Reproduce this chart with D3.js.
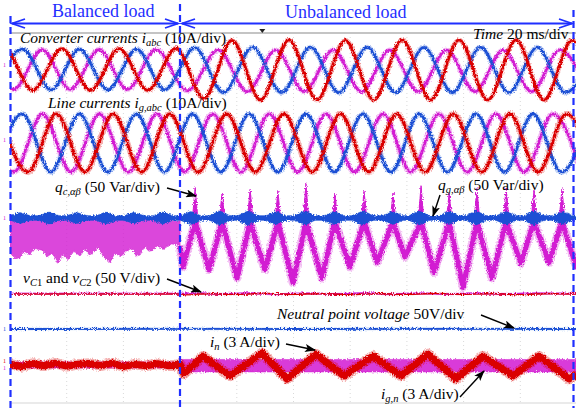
<!DOCTYPE html>
<html><head><meta charset="utf-8">
<script src="https://cdn.jsdelivr.net/npm/d3@7"></script>
<style>body{margin:0;background:#fff}svg{display:block}text{font-family:'Liberation Serif','Times New Roman',serif}</style>
</head><body>
<svg id="c" width="576" height="408"></svg>
<script>
// ================= DATA (time in ms, 20 ms/div; values in channel units) =================
// Converter currents i_abc (A), extrema
const convRed = [[-12,-4.5],[-2,4.5],[8,-4.5],[18.3,4.5],[28.4,-4.5],[38.5,4.5],[48.6,-4.5],[58.6,4.6],[68.4,-6.3],[78.3,6.3],[88.4,-6.6],[98.4,6.4],[108.3,-6.6],[118.3,6.3],[128.3,-6.6],[138.3,6.4],[148.4,-6.6],[158.4,6.4],[168.5,-6.6],[178.5,6.4],[188.4,-6.6],[198.2,6.3],[208.2,-6.6]];
const convBlue = [[-5.5,-4.4],[4.5,4.4],[14.5,-4.4],[24.5,4.4],[34.5,-4.4],[44.6,4.4],[54.6,-4.4],[65.2,4.7],[75.3,-5.0],[85.6,4.8],[95.8,-5.0],[106,4.8],[116,-5.0],[126,4.8],[136,-5.0],[146,4.8],[156,-5.0],[166,4.8],[176,-5.0],[186,4.8],[196,-5.0],[206,4.8]];
const convMag = [[-8.7,4.3],[1.3,-4.3],[11.3,4.3],[21.3,-4.3],[31.4,4.3],[41.4,-4.3],[51.5,4.3],[62.5,-4.6],[73.5,4.2],[83.7,-4.8],[93.8,4.2],[103.9,-4.8],[114,4.2],[124,-4.8],[134,4.2],[144,-4.8],[154,4.2],[164,-4.8],[174,4.2],[184,-4.8],[194,4.2],[204,-4.8]];
// Line currents i_g,abc (A)
const lineRed = [[-3.6,6.3],[6.4,-6.3],[16.4,6.3],[26.4,-6.3],[36.4,6.3],[46.4,-6.3],[56.4,6.3],[66.4,-6.3],[76.4,6.3],[86.5,-6.3],[96.6,6.3],[106.6,-6.3],[116.6,6.3],[126.5,-6.3],[136.4,6.3],[146.4,-6.3],[156.4,6.3],[166.4,-6.3],[176.3,6.3],[186.3,-6.3],[196.3,6.3],[206.3,-6.3]];
const lineBlue = [[-5.6,-6.3],[4.4,6.3],[14.4,-6.3],[24.5,6.3],[34.5,-6.3],[44.6,6.3],[54.5,-6.3],[64.4,6.3],[74.4,-6.3],[84.4,6.3],[94.4,-6.3],[104.4,6.3],[114.4,-6.3],[124.5,6.3],[134.4,-6.3],[144.3,6.3],[154.3,-6.3],[164.4,6.3],[174.4,-6.3],[184.5,6.3],[194.5,-6.3],[204.5,6.3]];
const lineMag = [[-8.7,6.3],[1.3,-6.3],[11.5,6.3],[21.5,-6.3],[31.6,6.3],[41.7,-6.3],[51.8,6.3],[61.6,-6.3],[71.5,6.3],[81.5,-6.3],[91.5,6.3],[101.5,-6.3],[111.5,6.3],[121.5,-6.3],[131.6,6.3],[141.4,-6.3],[151.3,6.3],[161.3,-6.3],[171.4,6.3],[181.4,-6.3],[191.5,6.3],[201.5,-6.3]];
// q_g,ab (Var): noise band with bursts
const qgBurstT = [3.5,13.8,23.6,33.9,43.7,54,63.8,74,84,93.8,104,114.3,124.5,135,144.3,154.9,164.4,175,184.8,195];
const qgBurstAmp = [6,6.5,6,6.5,6,6.5,7,7.5,7.5,7,7.5,7,7.5,7,7.5,7,7.5,7,7.5,7];
const qgBase = 2.6;
// q_c,ab (Var): balanced noise band envelopes
const qcBalUpper = [[0,-2],[5,-4],[10,-1],[15,-3],[20,-2],[24,2],[26,-3],[30,-2],[35,-4],[40,-1],[45,-3],[50,-2],[55,-4],[60,-3]];
const qcBalLower = [[0,-38],[2,-44],[3.5,-43],[5,-36],[7,-40],[9,-33],[11.6,-35],[13,-42],[15,-38],[16.9,-49],[18.5,-40],[20.5,-45],[22.5,-36],[24.7,-41],[26.5,-34],[28,-40],[29.3,-38],[31,-32],[33,-42],[35.3,-48],[37,-38],[39,-42],[41.3,-35],[43,-33],[44.5,-41],[45.9,-40],[47.5,-31],[49,-36],[50.4,-35],[52,-30],[54,-34],[55.4,-31],[57,-28],[58.9,-29],[60,-30]];
// q_c,ab (Var): unbalanced spikes and troughs
const qcSpikeT = [65.3,74.8,84.7,94.5,104.4,114.6,124.9,135.1,145,154.9,164.7,175,184.8,194.7];
const qcSpikeV = [33,27,31,29,37,27,29,27,35,27,32,33,31,32];
const qcTroughT = [61,70.2,80.1,89.9,99.8,110,119.9,129.5,139.3,149.6,159.8,170,180.2,190.1,200];
const qcTroughV = [-53,-56,-65,-56,-70,-65,-53,-48,-42,-59,-75,-65,-49,-48,-55];
// DC-link capacitor voltages v_C1, v_C2 (deviation, V)
const vc1 = [[0,0],[60,0],[62,-0.8],[70,0.3],[80,-0.5],[90,0.6],[100,-0.4],[110,0.5],[120,-0.6],[130,0.4],[140,-0.5],[150,0.6],[160,-0.3],[170,0.5],[180,-0.6],[190,0.4],[200,0]];
const vc2 = [[0,0.3],[60,0.3],[65,0.9],[75,0],[85,0.8],[95,-0.2],[105,0.7],[115,0],[125,0.8],[135,-0.1],[145,0.7],[155,0],[165,0.8],[175,0],[185,0.7],[200,0.3]];
// Neutral point voltage (V)
const vn = [[0,0],[50,0.2],[100,0],[150,0.2],[200,0]];
// Neutral currents (A)
const inRed = [[0,0.05],[4,-0.1],[8,0.1],[12,-0.05],[16,0.12],[20,-0.08],[24,0.05],[28,0.1],[32,-0.05],[36,0.12],[40,-0.1],[44,0.05],[48,-0.05],[52,0.08],[56,-0.05],[60,0.05],[61.3,-0.58],[68.1,0.58],[77.6,-0.71],[88.9,0.78],[97.7,-0.91],[107.9,0.71],[117.8,-0.71],[128,0.58],[137.9,-0.71],[147.4,0.71],[157.3,-0.91],[166.8,0.58],[177.4,-0.71],[186.6,0.58],[197.2,-0.91],[200,-0.6]];
const ignUpper = [[0,0.2],[59.5,0.2],[60.5,0.36],[200,0.36]];
const ignLower = [[0,-0.2],[59.5,-0.2],[60.5,-0.45],[200,-0.45]];

// ================= LAYOUT =================
const W = 576, H = 408;
const svg = d3.select('#c');
const x = d3.scaleLinear().domain([0, 200]).range([10, 577]);
const DIV = 46.25;
const ch = (zero, perDiv) => d3.scaleLinear().domain([0, perDiv]).range([zero, zero - DIV]);
const yConv = ch(69.5, 10), yLine = ch(143, 10), yQ = ch(218, 50),
      yVc = ch(294, 50), yVn = ch(329, 50), yIn = ch(365, 3);
const RED = '#da0000', BLUE = '#1a4fd4', MAG = '#d21ad2', DBLUE = '#1f2fff';
const FONT = "'Liberation Serif','Times New Roman',serif";

svg.append('defs').html(`
  <clipPath id="clip"><rect x="10" y="33" width="566" height="370"/></clipPath>
  <filter id="fz" x="-2%" y="-5%" width="104%" height="110%">
    <feTurbulence type="fractalNoise" baseFrequency="0.9 0.6" numOctaves="2" seed="4" result="n"/>
    <feDisplacementMap in="SourceGraphic" in2="n" scale="4" xChannelSelector="R" yChannelSelector="G"/>
  </filter>
  <marker id="ah" markerUnits="userSpaceOnUse" markerWidth="11" markerHeight="8" refX="10" refY="4" orient="auto">
    <path d="M0,0 L11,4 L0,8 L2.5,4 z" fill="#000"/></marker>`);

// grid (faint)
const grid = svg.append('g');
d3.range(1, 10).forEach(k => {
  grid.append('line').attr('x1', x(20 * k)).attr('x2', x(20 * k)).attr('y1', 33).attr('y2', 403)
    .attr('stroke', '#d9d9d9').attr('stroke-width', 1).attr('stroke-dasharray', '1,3');
});
grid.append('line').attr('x1', 10).attr('x2', 576).attr('y1', 403).attr('y2', 403).attr('stroke', '#d6d6d6').attr('stroke-width', 1.2);
grid.append('line').attr('x1', 10).attr('x2', 576).attr('y1', 33).attr('y2', 33).attr('stroke', '#c4c4c4').attr('stroke-width', 2.2);

const plot = svg.append('g').attr('clip-path', 'url(#clip)').append('g').attr('filter', 'url(#fz)');

function trace(data, y, color, core, fuzz, curve) {
  const gen = d3.line().x(d => x(d[0])).y(d => y(d[1])).curve(curve || d3.curveMonotoneX);
  const dd = gen(data);
  plot.append('path').attr('d', dd).attr('fill', 'none').attr('stroke', color)
    .attr('stroke-width', fuzz).attr('stroke-opacity', 0.3).attr('stroke-linejoin', 'round');
  plot.append('path').attr('d', dd).attr('fill', 'none').attr('stroke', color)
    .attr('stroke-width', core).attr('stroke-linejoin', 'round');
}
function poly(upper, lower, y, color, op) {
  const gen = d3.line().x(d => x(d[0])).y(d => y(d[1])).curve(d3.curveLinear);
  plot.append('path').attr('d', gen(upper.concat(lower.slice().reverse())) + 'Z')
    .attr('fill', color).attr('fill-opacity', op).attr('stroke', color).attr('stroke-width', 1).attr('stroke-opacity', 0.5);
}

// converter currents
trace(convMag, yConv, MAG, 2.6, 5);
trace(convBlue, yConv, BLUE, 2.6, 5);
trace(convRed, yConv, RED, 2.8, 5);
// line currents
trace(lineMag, yLine, MAG, 2.6, 5.5);
trace(lineBlue, yLine, BLUE, 2.6, 5);
trace(lineRed, yLine, RED, 2.8, 6);

// q_c balanced band
poly(qcBalUpper, qcBalLower, yQ, MAG, 0.8);
// q_c unbalanced: V-shaped trace between troughs, passing the spike instants
const qcPts = [[60, -30]];
const evts = qcTroughT.map((t, i) => ({t, v: qcTroughV[i], s: false}))
  .concat(qcSpikeT.map((t, i) => ({t, v: qcSpikeV[i], s: true}))).sort((a, b) => a.t - b.t);
evts.forEach(e => qcPts.push([e.t, e.s ? -4 : e.v]));
trace(qcPts, yQ, MAG, 5, 8.5, d3.curveLinear);
// narrow spikes
qcSpikeT.forEach((t, i) => {
  plot.append('path').attr('d', `M${x(t - 1.1)},${yQ(-6)} L${x(t)},${yQ(qcSpikeV[i])} L${x(t + 1.1)},${yQ(-6)} Z`)
    .attr('fill', MAG).attr('stroke', MAG).attr('stroke-width', 1).attr('stroke-linejoin', 'round');
});

// q_g band
const qgEnv = [[0, qgBase]];
qgBurstT.forEach((t, i) => {
  const a = qgBurstAmp[i];
  qgEnv.push([t - 4, qgBase], [t - 1.6, a * 0.75], [t, a], [t + 1.6, a * 0.75], [t + 4, qgBase]);
});
qgEnv.push([200, qgBase]);
qgEnv.sort((a, b) => a[0] - b[0]);
plot.append('path').attr('d', d3.area().x(d => x(d[0])).y0(d => yQ(-d[1])).y1(d => yQ(d[1])).curve(d3.curveMonotoneX)(qgEnv))
  .attr('fill', BLUE).attr('stroke', BLUE).attr('stroke-width', 0.6).attr('stroke-opacity', 0.5);

// capacitor voltages
trace(vc2, yVc, MAG, 1.8, 2.6, d3.curveMonotoneX);
trace(vc1, yVc, RED, 1.2, 1.8, d3.curveMonotoneX);
// neutral point voltage
trace(vn, yVn, BLUE, 1.8, 2.6, d3.curveMonotoneX);
// neutral currents
poly(ignUpper, ignLower, yIn, MAG, 0.85);
trace(inRed, yIn, RED, 7, 10.5, d3.curveLinear);

// small scope markers
svg.append('path').attr('d', `M${x(89)-3},29 L${x(89)+3},29 L${x(89)},33 Z`).attr('fill', '#222');
const mk = [[67, MAG], [142, MAG], [220, MAG], [331, BLUE], [363, RED], [370, MAG]];
mk.forEach(m => svg.append('text').attr('x', 3).attr('y', m[0]).attr('font-size', 6).attr('font-family', FONT).attr('fill', m[1]).text('1'));

// ================= TEXT =================
function label(px, py, parts, size, color) {
  const t = svg.append('text').attr('x', px).attr('y', py).attr('font-family', FONT)
    .attr('font-size', size || 15.5).attr('fill', color || '#000');
  let shift = 0;
  parts.forEach(p => {
    const s = t.append('tspan').text(p.t);
    if (p.i) s.attr('font-style', 'italic');
    if (p.sub) { s.attr('font-size', 10.5); if (shift === 0) { s.attr('dy', 3); shift = 3; } }
    else if (shift !== 0) { s.attr('dy', -shift); shift = 0; }
  });
  return t;
}
label(52, 16.5, [{t: 'Balanced load'}], 18, DBLUE);
label(285, 18, [{t: 'Unbalanced load'}], 18, DBLUE);
label(20, 43, [{t: 'Converter currents i', i: 1}, {t: 'abc', i: 1, sub: 1}, {t: ' (10A/div)'}]);
label(473, 39, [{t: 'Time', i: 1}, {t: ' 20 ms/div'}]);
label(48, 108, [{t: 'Line currents i', i: 1}, {t: 'g,abc', i: 1, sub: 1}, {t: ' (10A/div)'}]);
label(55, 192, [{t: 'q', i: 1}, {t: 'c,αβ', i: 1, sub: 1}, {t: ' (50 Var/div)'}]);
label(438, 190, [{t: 'q', i: 1}, {t: 'g,αβ', i: 1, sub: 1}, {t: ' (50 Var/div)'}]);
label(23, 283, [{t: 'v', i: 1}, {t: 'C', i: 1, sub: 1}, {t: '1', sub: 1}, {t: ' and '}, {t: 'v', i: 1}, {t: 'C', i: 1, sub: 1}, {t: '2', sub: 1}, {t: ' (50 V/div)'}]);
label(277, 319, [{t: 'Neutral point voltage', i: 1}, {t: ' 50V/div'}]);
label(210, 347, [{t: 'i', i: 1}, {t: 'n', i: 1, sub: 1}, {t: ' (3 A/div)'}]);
label(381, 399, [{t: 'i', i: 1}, {t: 'g,n', i: 1, sub: 1}, {t: ' (3 A/div)'}]);

// annotation arrows
const arrows = [[167, 188, 196, 196], [440, 195, 433, 216], [167, 279, 201, 292], [481, 315, 514, 328], [286, 344, 315, 350], [460, 397, 484, 371]];
arrows.forEach(a => svg.append('line').attr('x1', a[0]).attr('y1', a[1]).attr('x2', a[2]).attr('y2', a[3])
  .attr('stroke', '#000').attr('stroke-width', 1.4).attr('marker-end', 'url(#ah)'));

// region double arrows
function dbl(x1, x2, y) {
  const g = svg.append('g').attr('stroke', DBLUE).attr('fill', 'none').attr('stroke-width', 1.8);
  g.append('line').attr('x1', x1).attr('x2', x2).attr('y1', y).attr('y2', y);
  g.append('path').attr('d', `M${x1 + 13},${y - 4.5} L${x1},${y} L${x1 + 13},${y + 4.5}`);
  g.append('path').attr('d', `M${x2 - 13},${y - 4.5} L${x2},${y} L${x2 - 13},${y + 4.5}`);
}
dbl(12, 178, 23.5);
dbl(182, 572, 23.5);

// dashed boundaries
[[10.5, 16], [180, 4], [573.5, 10]].forEach(d => svg.append('line').attr('x1', d[0]).attr('x2', d[0]).attr('y1', d[1]).attr('y2', H)
  .attr('stroke', DBLUE).attr('stroke-width', 2.2).attr('stroke-dasharray', '7,4'));
</script>
</body></html>
